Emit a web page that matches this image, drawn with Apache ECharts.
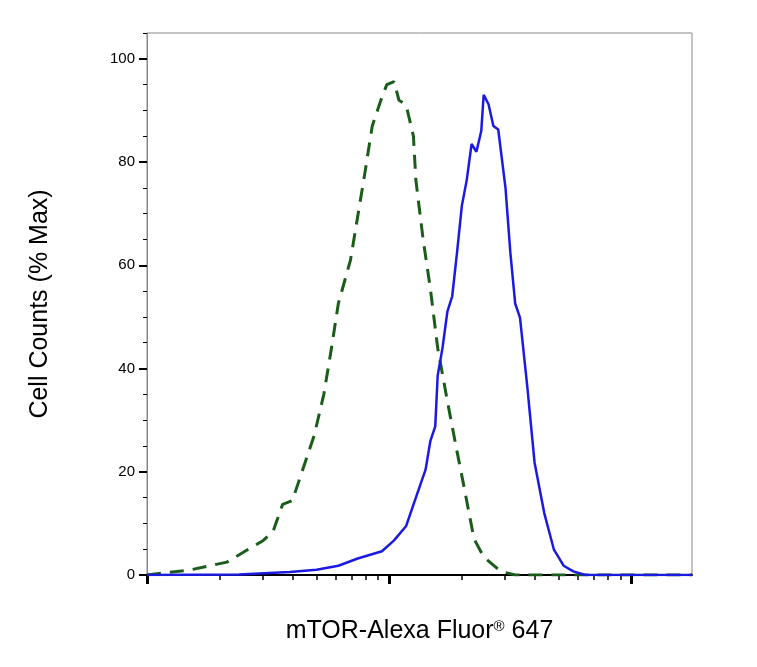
<!DOCTYPE html>
<html><head><meta charset="utf-8">
<script src="https://cdn.jsdelivr.net/npm/echarts@6/dist/echarts.min.js"></script>
<style>html,body{margin:0;padding:0;background:#fff}#c{width:757px;height:667px}</style>
</head><body><div id="c"></div>
<script>
// x in log10 decades from axis start
const isoX = [0,0.18,0.33,0.48,0.52,0.56,0.6,0.64,0.69,0.73,0.76,0.79,0.84,0.87,0.9,0.93,0.97,0.99,1.02,1.04,1.07,1.1,1.11,1.14,1.17,1.2,1.24,1.28,1.31,1.35,1.39,1.46,1.52,1.77,2.25];
const isoY = [0,1,2.5,6.7,8.4,13.7,14.4,20,27,35,43.5,52.6,61,69.5,78,87,92.6,95,95.6,92,91,85,76.5,65,55.4,44,33.7,23.9,16.8,7,3.5,0.7,0,0,0];
const mtorX = [0,0.38,0.59,0.7,0.79,0.87,0.97,1.02,1.07,1.11,1.15,1.17,1.19,1.2,1.22,1.24,1.26,1.28,1.3,1.32,1.34,1.36,1.38,1.39,1.41,1.43,1.45,1.48,1.5,1.52,1.54,1.57,1.6,1.64,1.68,1.72,1.76,1.81,2.25];
const mtorY = [0,0.1,0.6,1,1.8,3.2,4.6,6.7,9.5,15,20.4,26,28.8,38.6,44,51,54,62.5,71.6,76.5,83.5,82,86,93,91.2,87,86.3,75,62.5,52.6,49.8,36.5,21.8,12,4.9,1.8,0.7,0,0];
const majorTicks = [0,1,2];
const minorTicks = [];
[0,1].forEach(d=>{for(let k=2;k<=9;k++)minorTicks.push(d+Math.log10(k));});
const yTicks = [0,20,40,60,80,100];
const yMinor = [5,10,15,25,30,35,45,50,55,65,70,75,85,90,95,105];
const zip=(a,b)=>a.map((v,i)=>[v,b[i]]);
const chart = echarts.init(document.getElementById('c'));
chart.setOption({
  animation:false,
  grid:{left:147,right:65,top:33,bottom:92,show:true,borderColor:'#888',borderWidth:1},
  xAxis:[
    {type:'value',min:0,max:2.25,position:'bottom',
     axisLine:{show:true,lineStyle:{color:'#000',width:2}},
     axisTick:{show:true,customValues:majorTicks,length:9,lineStyle:{color:'#000',width:3}},
     axisLabel:{show:false},splitLine:{show:false},
     name:'{a|mTOR-Alexa Fluor}{s|®}{a| 647}',nameLocation:'middle',nameGap:44,
     nameTextStyle:{rich:{a:{fontSize:25,fontFamily:'Liberation Sans, Arial',color:'#000'},s:{fontSize:15,fontFamily:'Liberation Sans, Arial',color:'#000',verticalAlign:'top',padding:[0,0,10,0]}}}},
    {type:'value',min:0,max:2.25,position:'bottom',
     axisLine:{show:false},
     axisTick:{show:true,customValues:minorTicks,length:5,lineStyle:{color:'#000',width:1.5}},
     axisLabel:{show:false},splitLine:{show:false}}
  ],
  yAxis:[
    {type:'value',min:0,max:105,
    axisLine:{show:true,lineStyle:{color:'#888',width:1}},
    axisTick:{show:true,customValues:yTicks,length:8,lineStyle:{color:'#000',width:2}},
    axisLabel:{customValues:yTicks,fontSize:15,color:'#000',fontFamily:'Liberation Sans Narrow, Liberation Sans, Arial',margin:12,verticalAlign:'middle',padding:[0,0,8,0]},
    splitLine:{show:false},
    name:'Cell Counts (% Max)',nameLocation:'middle',nameGap:94,
    nameTextStyle:{fontSize:25,color:'#000',fontFamily:'Liberation Sans, Arial'}},
    {type:'value',min:0,max:105,position:'left',
     axisLine:{show:false},axisLabel:{show:false},splitLine:{show:false},
     axisTick:{show:true,customValues:yMinor,length:4,lineStyle:{color:'#000',width:1}}}
  ],
  series:[
    {type:'line',data:zip(isoX,isoY),showSymbol:false,
     lineStyle:{color:'#1a5c1a',width:3,type:[14,9]},z:2},
    {type:'line',data:zip(mtorX,mtorY),showSymbol:false,
     lineStyle:{color:'#1a1ae0',width:2.5},z:3}
  ]
});
</script></body></html>
